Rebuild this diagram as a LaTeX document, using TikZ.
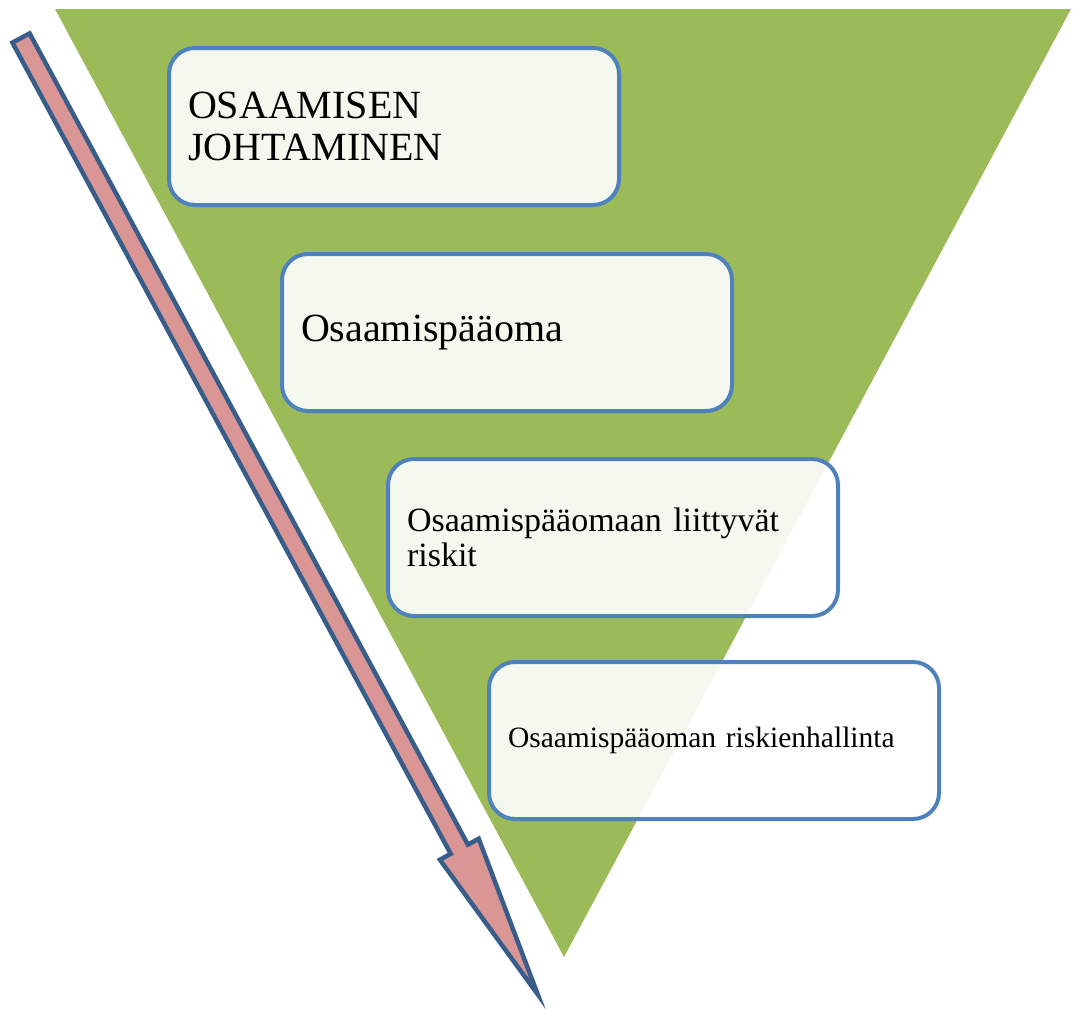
\documentclass[tikz,border=0pt]{standalone}
\usepackage{fontspec}
\setmainfont{Liberation Serif}
\definecolor{tgreen}{HTML}{9BBB59}
\definecolor{bblue}{HTML}{4F81BD}
\definecolor{apink}{HTML}{D99694}
\definecolor{adark}{HTML}{385D8A}
\tikzset{
  layerbox/.style={draw=bblue, line width=4pt, rounded corners=26pt, fill=white,
    fill opacity=0.9, text opacity=1, anchor=north west, minimum width=450pt,
    minimum height=157pt, text width=412pt, align=left, inner xsep=19pt, inner ysep=0pt},
}
\begin{document}
\begin{tikzpicture}[x=1pt,y=-1pt]
\useasboundingbox (0,0) rectangle (1074,1010);
% inverted triangle
\fill[tgreen] (55,9) -- (1071,9) -- (564,957) -- cycle;
% downward arrow
\draw[adark, fill=apink, line width=4.5pt, line join=miter]
  (12.4,42.6) -- (29.6,33.4) -- (467.9,844.6) -- (478.7,838.7)
  -- (537.7,994.3) -- (439.9,859.7) -- (450.7,853.8) -- cycle;
% boxes
\node[layerbox, font=\fontsize{40}{42}\selectfont] (b1) at (167,46) {OSAAMISEN\\JOHTAMINEN};
\node[layerbox, font=\fontsize{40}{42}\selectfont] (b2) at (280,252) {Osaamispääoma};
\node[layerbox, font=\fontsize{34}{35}\selectfont] (b3) at (386,457) {Osaamispääomaan liittyvät\\riskit};
\node[layerbox, font=\fontsize{29.5}{32}\selectfont] (b4) at (487,660) {Osaamispääoman riskienhallinta};
\end{tikzpicture}
\end{document}
